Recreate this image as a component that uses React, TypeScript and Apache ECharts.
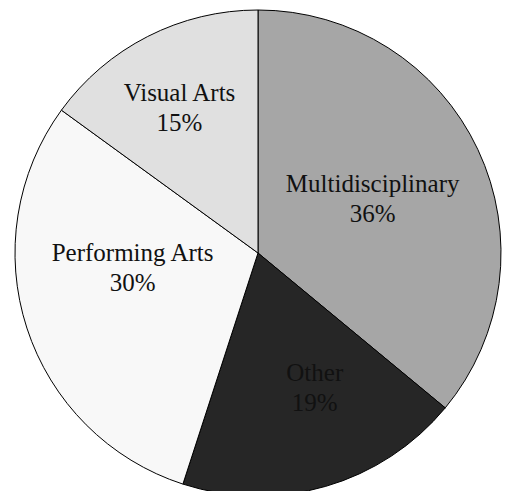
import React, { useEffect, useRef } from "react";
import * as echarts from "echarts";

const categories = ["Multidisciplinary", "Other", "Performing Arts", "Visual Arts"];
const values = [36, 19, 30, 15];
const sliceColors = ["#a6a6a6", "#262626", "#f8f8f8", "#e0e0e0"];
// style-only nudges of the inside labels (px)
const labelNudges = [
  [2, -1],
  [22, 15],
  [-7, -24],
  [-22, -35],
];

const CX = 258;
const CY = 253;

export default function App() {
  const ref = useRef<HTMLDivElement>(null);
  useEffect(() => {
    if (!ref.current) return;
    const chart = echarts.init(ref.current, undefined, { renderer: "svg" });
    chart.setOption({
      animation: false,
      backgroundColor: "#ffffff",
      series: [
        {
          type: "pie",
          center: [CX, CY],
          radius: 243,
          startAngle: 90,
          clockwise: true,
          avoidLabelOverlap: false,
          emphasis: { disabled: true },
          itemStyle: { borderColor: "#000000", borderWidth: 1 },
          label: {
            show: true,
            position: "inside",
            formatter: "{b}\n{d}%",
            fontFamily: "Liberation Serif",
            fontSize: 25,
            lineHeight: 30,
            color: "#111111",
          },
          labelLine: { show: false },
          labelLayout: (params: any) => {
            const n = labelNudges[params.dataIndex];
            return { dx: n[0], dy: n[1] };
          },
          data: categories.map((name, i) => ({
            name,
            value: values[i],
            itemStyle: { color: sliceColors[i] },
          })),
        },
      ],
    });
    return () => chart.dispose();
  }, []);
  return (
    <div
      ref={ref}
      style={{ position: "fixed", left: 0, top: 0, width: 505, height: 491 }}
    />
  );
}
